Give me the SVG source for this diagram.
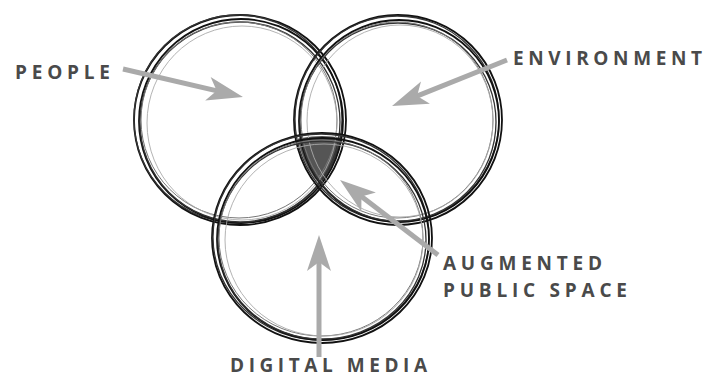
<svg xmlns="http://www.w3.org/2000/svg" width="717" height="377" viewBox="0 0 717 377">
<style>
.lbl{font-family:"Open Sans","Liberation Sans",sans-serif;font-weight:bold;font-size:19px;fill:#4a4a4a}
.r1{fill:none;stroke:#111;stroke-width:1.8}
.r2{fill:none;stroke:#333;stroke-width:1.3}
.r3{fill:none;stroke:#777;stroke-width:1}
.r4{fill:none;stroke:#aaa;stroke-width:0.9}
.arr{fill:none;stroke:#aaaaaa;stroke-width:5;marker-end:url(#ah)}
</style>
<defs>
<marker id="ah" markerUnits="userSpaceOnUse" viewBox="-20 -15 42 30" markerWidth="42" markerHeight="30" refX="0" refY="0" orient="auto">
<path d="M20,0 L-16,-12 L-7,0 L-16,12 Z" fill="#aaaaaa"/>
</marker>
<clipPath id="cl"><circle cx="241" cy="120" r="102"/></clipPath>
<clipPath id="cr"><circle cx="397" cy="120" r="101"/></clipPath>
</defs>
<rect width="717" height="377" fill="#fff"/>
<g id="shade" clip-path="url(#cl)">
<ellipse cx="322" cy="238" rx="106" ry="102" fill="#555" clip-path="url(#cr)"/>
</g>
<g id="people-circle">
<ellipse class="r1" cx="240" cy="120" rx="106" ry="105"/>
<ellipse class="r2" cx="238" cy="119" rx="104" ry="104"/>
<ellipse class="r1" cx="241" cy="121" rx="102" ry="102"/>
<ellipse class="r2" cx="240" cy="122" rx="100" ry="100"/>
<ellipse class="r3" cx="239" cy="120" rx="98" ry="98"/>
<ellipse class="r4" cx="242" cy="123" rx="95" ry="97"/>
</g>
<g id="environment-circle">
<ellipse class="r1" cx="398" cy="120" rx="104" ry="105"/>
<ellipse class="r2" cx="397" cy="119" rx="102" ry="103"/>
<ellipse class="r1" cx="399" cy="121" rx="100" ry="101"/>
<ellipse class="r2" cx="398" cy="122" rx="98" ry="99"/>
<ellipse class="r3" cx="397" cy="120" rx="96" ry="98"/>
<ellipse class="r4" cx="400" cy="121" rx="93" ry="96"/>
</g>
<g id="media-circle">
<ellipse class="r1" cx="322" cy="238" rx="110" ry="105"/>
<ellipse class="r2" cx="321" cy="237" rx="108" ry="103"/>
<ellipse class="r1" cx="323" cy="239" rx="106" ry="101"/>
<ellipse class="r2" cx="322" cy="240" rx="104" ry="99"/>
<ellipse class="r3" cx="321" cy="238" rx="102" ry="98"/>
<ellipse class="r4" cx="324" cy="240" rx="99" ry="96"/>
</g>
<g id="connectors">
<line class="arr" x1="123" y1="69" x2="223.5" y2="92.4"/>
<line class="arr" x1="507" y1="60" x2="410.6" y2="98.6"/>
<line class="arr" x1="438" y1="255" x2="355.9" y2="192.2"/>
<line class="arr" x1="319" y1="357" x2="319" y2="255"/>
</g>
<g id="people"><text class="lbl" x="15" y="79" textLength="95" lengthAdjust="spacing">PEOPLE</text></g>
<g id="environment"><text class="lbl" x="513" y="65" textLength="189" lengthAdjust="spacing">ENVIRONMENT</text></g>
<g id="augmented"><text class="lbl" x="443" y="270" textLength="159" lengthAdjust="spacing">AUGMENTED</text>
<text class="lbl" x="443" y="297" textLength="184" lengthAdjust="spacing">PUBLIC SPACE</text></g>
<g id="digital-media"><text class="lbl" x="230" y="372" font-size="18" textLength="197" lengthAdjust="spacing">DIGITAL MEDIA</text></g>
</svg>
